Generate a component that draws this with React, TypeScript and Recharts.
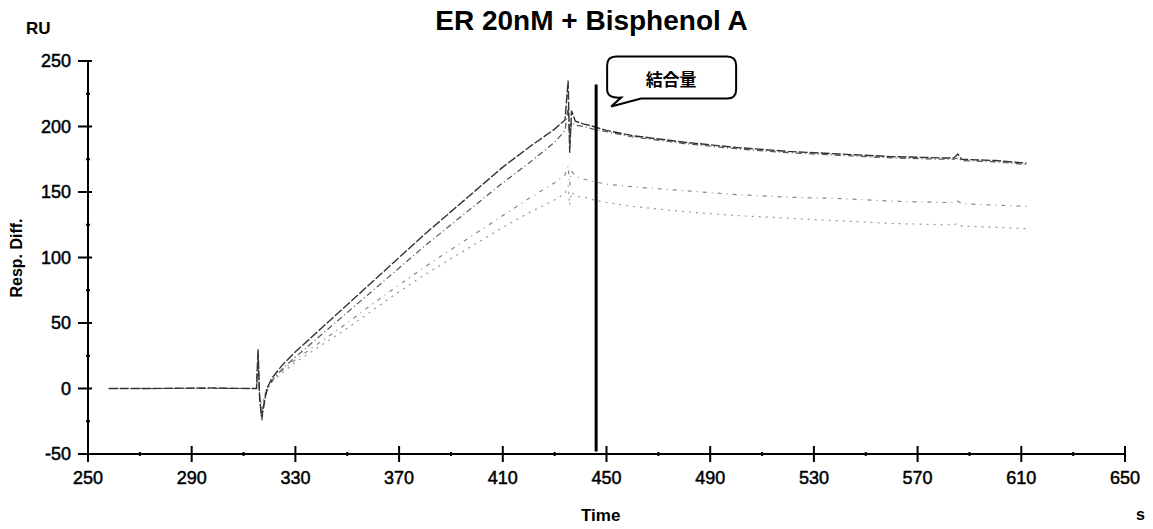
import { LineChart, Line, XAxis, YAxis, ReferenceLine, ReferenceDot } from "recharts";

const time = [258, 275, 295, 312, 315, 315.6, 316.2, 317, 318, 319, 321, 325, 330, 340, 350, 360, 370, 380, 390, 400, 410, 420, 430, 434, 435.2, 435.8, 436.5, 438, 441, 445, 450, 460, 480, 500, 520, 540, 560, 580, 584, 585.5, 587, 600, 612];

const curve1 = [0, 0, 0.5, 0, 0, 30, -8, -22, -10, 0, 8, 18, 28, 46, 64, 82, 100, 118, 135, 152, 169, 184, 198, 205, 235, 180, 212, 204, 202, 200, 197, 193, 188, 184, 181, 179, 177, 176, 176, 179, 175, 174, 172];
const curve2 = [0, 0, 0, 0, 0, 25, -6, -25, -12, -2, 6, 15, 24, 41, 58, 75, 92, 109, 125, 141, 157, 172, 188, 197, 215, 190, 203, 201, 200, 198, 196, 192, 187, 183, 180, 178, 176, 175, 175, 176, 174, 173, 171];
const curve3 = [0, 0, 0, 0, 0, 20, -4, -18, -8, 0, 6, 14, 22, 36, 50, 65, 79, 93, 106, 119, 132, 145, 157, 163, 170, 155, 166, 162, 160, 158, 156, 154, 151, 148, 146, 145, 143, 142, 142, 143, 141, 140, 139];
const curve4 = [0, 0, 0, 0, 0, 16, -3, -15, -6, 0, 5, 12, 20, 33, 46, 60, 74, 87, 99, 111, 123, 134, 144, 149, 155, 140, 150, 147, 146, 144, 142, 139, 135, 132, 130, 128, 126, 125, 125, 126, 124, 123, 122];

const xTicks = [250, 270, 290, 310, 330, 350, 370, 390, 410, 430, 450, 470, 490, 510, 530, 550, 570, 590, 610, 630, 650];
const xMajor = [250, 290, 330, 370, 410, 450, 490, 530, 570, 610, 650];
const yTicks = [-50, -25, 0, 25, 50, 75, 100, 125, 150, 175, 200, 225, 250];
const yMajor = [-50, 0, 50, 100, 150, 200, 250];

const markerTime = 446;
const markerTop = 232;

const rows = time.map((t, i) => ({ t, a: curve1[i], b: curve2[i], c: curve3[i], d: curve4[i] }));

const FONT = "Arial, 'Liberation Sans', sans-serif";

const XTick = (props: any) => {
  const { x, y, payload } = props;
  const major = xMajor.includes(payload.value);
  return (
    <g>
      <line x1={x} x2={x} y1={y - (major ? 8 : 2)} y2={y + (major ? 8 : 2)} stroke="#000" strokeWidth={2} />
      {major && (
        <text x={x} y={y + 30} textAnchor="middle" fontSize={18} fontFamily={FONT} fill="#000" stroke="#000" strokeWidth={0.5}>
          {payload.value}
        </text>
      )}
    </g>
  );
};

const YTick = (props: any) => {
  const { x, y, payload } = props;
  const major = yMajor.includes(payload.value);
  return (
    <g>
      <line x1={x - (major ? 10 : 2)} x2={x + (major ? 4 : 2)} y1={y} y2={y} stroke="#000" strokeWidth={2} />
      {major && (
        <text x={x - 17} y={y + 6} textAnchor="end" fontSize={18} fontFamily={FONT} fill="#000" stroke="#000" strokeWidth={0.5}>
          {payload.value}
        </text>
      )}
    </g>
  );
};

const Callout = (props: any) => {
  const { cx, cy } = props;
  const l = cx + 11, r = cx + 140, t = cy - 28, b = cy + 14, rad = 9;
  const d = `M ${l + rad} ${t} H ${r - rad} Q ${r} ${t} ${r} ${t + rad} V ${b - rad} Q ${r} ${b} ${r - rad} ${b} H ${l + 34} L ${cx + 15} ${cy + 22} L ${l + 14} ${b - 1} Q ${l} ${b} ${l} ${b - rad} V ${t + rad} Q ${l} ${t} ${l + rad} ${t} Z`;
  return (
    <g>
      <path d={d} fill="#fff" stroke="#000" strokeWidth={2} />
      <text x={cx + 75} y={cy + 1} textAnchor="middle" fontSize={17} fontWeight="bold" fontFamily="'Noto Sans CJK JP', sans-serif" fill="#000">
        結合量
      </text>
    </g>
  );
};

export default function App() {
  return (
    <div style={{ position: "absolute", left: 0, top: 0, width: 1153, height: 529, background: "#fff", fontFamily: FONT }}>
      <LineChart width={1153} height={529} data={rows} margin={{ top: 61, right: 28, bottom: 0, left: 0 }}>
        <XAxis
          dataKey="t"
          type="number"
          domain={[250, 650]}
          ticks={xTicks}
          interval={0}
          allowDataOverflow
          height={75}
          tickSize={0}
          tickMargin={0}
          tickLine={false}
          axisLine={{ stroke: "#000", strokeWidth: 2 }}
          tick={<XTick />}
        />
        <YAxis
          type="number"
          domain={[-50, 250]}
          ticks={yTicks}
          interval={0}
          allowDataOverflow
          width={88}
          tickSize={0}
          tickMargin={0}
          tickLine={false}
          axisLine={{ stroke: "#000", strokeWidth: 2 }}
          tick={<YTick />}
        />
        <Line dataKey="d" stroke="#999" strokeWidth={1.2} strokeDasharray="2 5" dot={false} isAnimationActive={false} />
        <Line dataKey="c" stroke="#888" strokeWidth={1.2} strokeDasharray="4 5 1 5" dot={false} isAnimationActive={false} />
        <Line dataKey="b" stroke="#555" strokeWidth={1.2} strokeDasharray="6 3 1 3" dot={false} isAnimationActive={false} />
        <Line dataKey="a" stroke="#333" strokeWidth={1.4} strokeDasharray="9 2" dot={false} isAnimationActive={false} />
        <ReferenceLine
          segment={[{ x: markerTime, y: -48 }, { x: markerTime, y: markerTop }]}
          stroke="#000"
          strokeWidth={3}
        />
        <ReferenceDot x={markerTime} y={markerTop} r={0} shape={<Callout />} />
      </LineChart>
      <div style={{ position: "absolute", left: 0, width: 1183, top: 5, textAlign: "center", fontSize: 28, fontWeight: "bold" }}>
        ER 20nM + Bisphenol A
      </div>
      <div style={{ position: "absolute", left: 26, top: 19, fontSize: 17, fontWeight: "bold" }}>RU</div>
      <div
        style={{
          position: "absolute",
          left: 17,
          top: 258,
          fontSize: 16,
          fontWeight: "bold",
          transform: "translate(-50%, -50%) rotate(-90deg)",
          whiteSpace: "nowrap",
        }}
      >
        Resp. Diff.
      </div>
      <div style={{ position: "absolute", left: 581, top: 506, fontSize: 17, fontWeight: "bold" }}>Time</div>
      <div style={{ position: "absolute", left: 1136, top: 506, fontSize: 16, fontWeight: "bold" }}>s</div>
    </div>
  );
}
